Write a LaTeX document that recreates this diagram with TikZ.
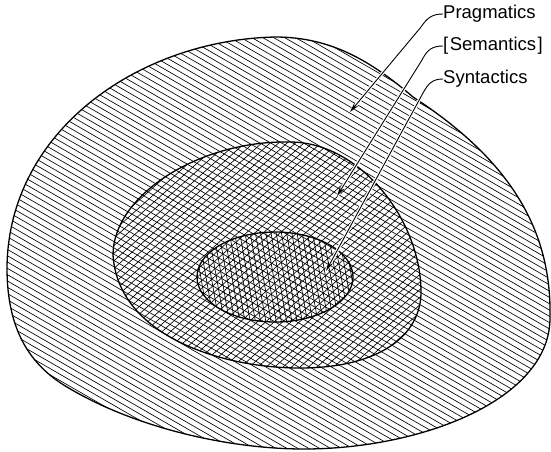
\documentclass[tikz,border=0pt]{standalone}
\usepackage{fontspec}
\setmainfont{Liberation Sans}
\usetikzlibrary{arrows.meta}
\begin{document}
\begin{tikzpicture}[x=1pt,y=-1pt,
  hatch/.style={line width=0.65pt,black},
  rim/.style={line width=1.3pt,black},
  lbl/.style={anchor=west,inner sep=0pt,font=\fontsize{18.5}{20}\selectfont},
  halo/.style={draw=white,line width=3.2pt},
  leader/.style={line width=0.9pt,black,-{Stealth[length=10pt,width=5pt]}}]
\useasboundingbox (0,0) rectangle (551,451);
\fill[white] (0,0) rectangle (551,451);
\def\outerpath{(275,37) .. controls (140,40) and (8,130) .. (7,268)
  .. controls (7,330) and (30,365) .. (67,387)
  .. controls (130,425) and (220,448) .. (300,449)
  .. controls (420,450) and (550,400) .. (550,318)
  .. controls (552,230) and (510,160) .. (413,97)
  .. controls (370,60) and (330,37) .. (275,37) -- cycle}
\def\middlepath{(290,142) .. controls (200,140) and (113,195) .. (113,255)
  .. controls (118,335) and (220,368) .. (300,368)
  .. controls (380,368) and (421,335) .. (421,292)
  .. controls (421,220) and (360,142) .. (290,142) -- cycle}
\def\innerpath{(275,277) ellipse [x radius=78,y radius=45]}
% outer hatching: descending lines
\begin{scope}
  \clip \outerpath;
  \foreach \k in {-60,...,75} \draw[hatch] (-10,\k*6.3) -- ++(600,346);
\end{scope}
% middle: ascending set
\begin{scope}
  \clip \middlepath;
  \foreach \k in {20,...,110} \draw[hatch] (-10,\k*7.6) -- ++(600,-540);
\end{scope}
% inner: near-vertical set
\begin{scope}
  \clip \innerpath;
  \foreach \k in {30,...,80} \draw[hatch] (\k*5.2,200) -- ++(30,170);
\end{scope}
\draw[rim] \outerpath;
\draw[rim] \middlepath;
\draw[rim] \innerpath;
% labels
\node[lbl] (prag) at (443,14) {Pragmatics};
\node[lbl] (sem) at (443,46) {[\kern1.5pt Semantics\kern1.5pt]};
\node[lbl] (syn) at (443,79) {Syntactics};
\coordinate (tp) at (350,112);
\coordinate (ts) at (337,196);
\coordinate (tx) at (326,271);
\path[halo] (421,27) -- (tp);
\path[halo] (422,60) -- (ts);
\path[halo] (423,93) -- (tx);
\draw[leader] (prag.west) .. controls (432,14) and (427,18) .. (421,27) -- (tp);
\draw[leader] (sem.west) .. controls (432,46) and (427,50) .. (422,60) -- (ts);
\draw[leader] (syn.west) .. controls (432,79) and (428,84) .. (423,93) -- (tx);
\end{tikzpicture}
\end{document}
